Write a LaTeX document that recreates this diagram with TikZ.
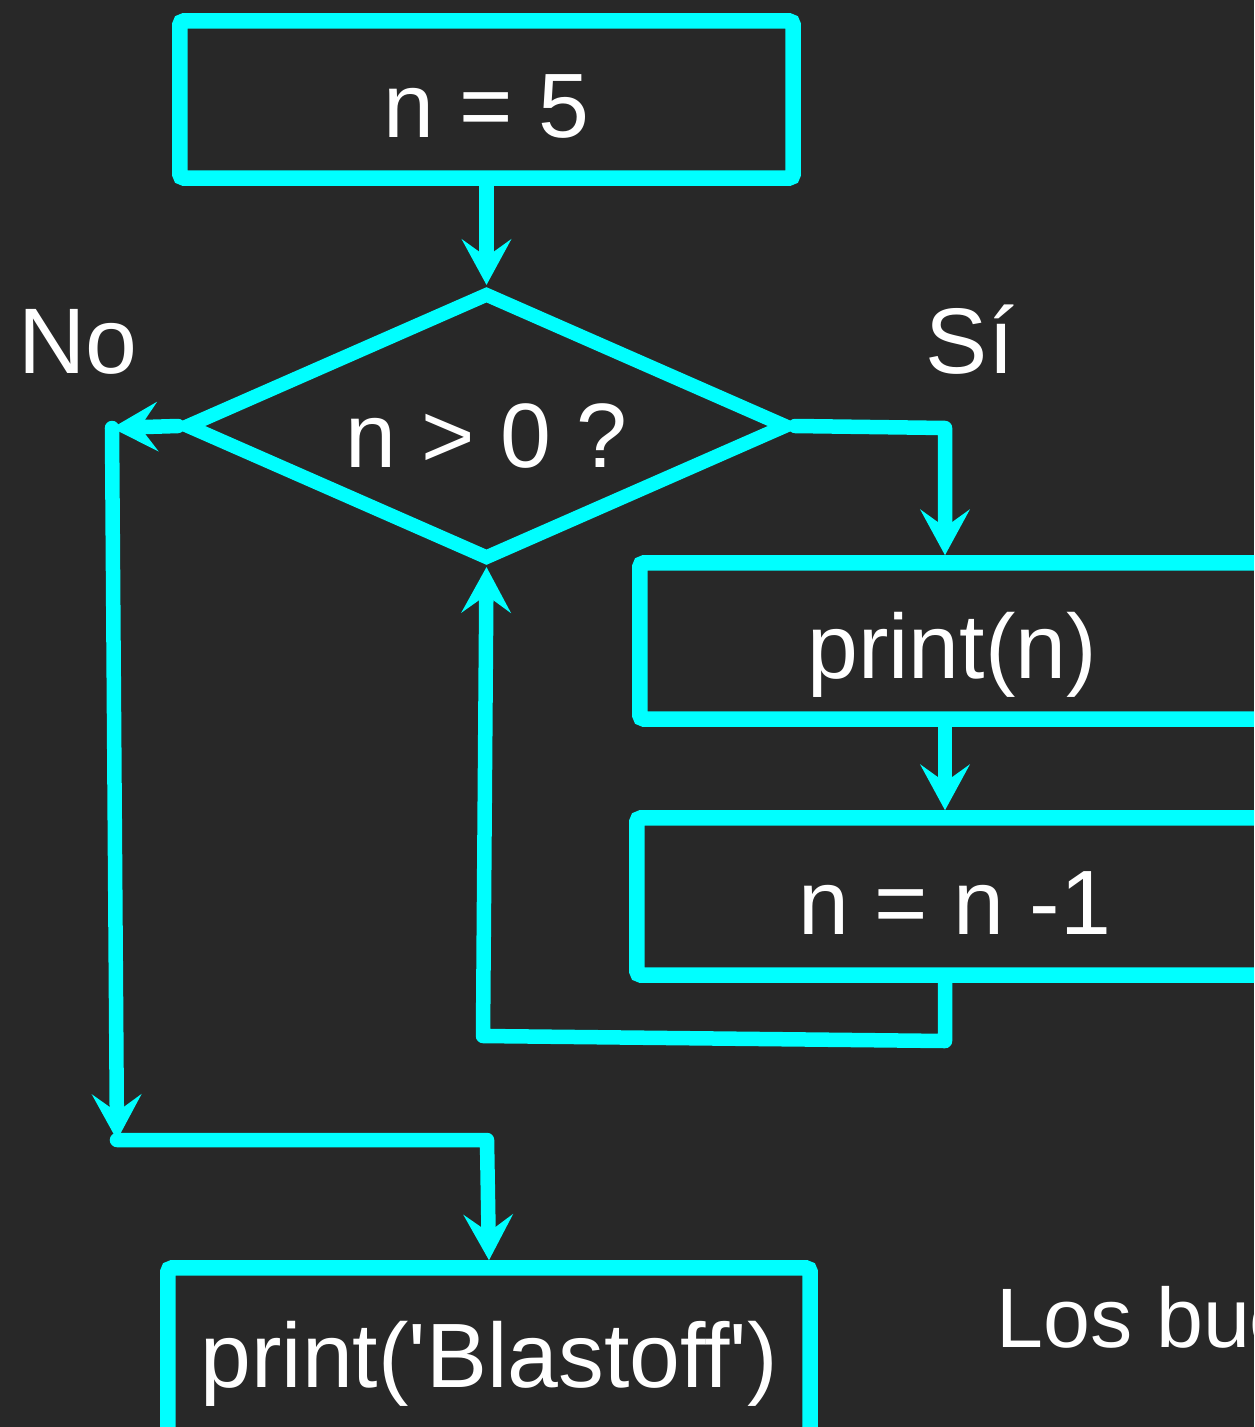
\documentclass[tikz,border=0pt]{standalone}
\usepackage{fontspec}
\setmainfont{Liberation Sans}
\usetikzlibrary{shapes.geometric,arrows.meta}
\definecolor{bgdark}{HTML}{282828}
\definecolor{flowcyan}{HTML}{00FFFF}
\begin{document}
\begin{tikzpicture}[x=0.01cm,y=-0.01cm,
    box/.style={draw=flowcyan, line width=0.155cm, rounded corners=0.04cm, text=white, inner sep=0pt,
        text height=0.75cm, text depth=0pt, font=\fontsize{26pt}{31pt}\selectfont},
    decision/.style={diamond, draw=flowcyan, line width=0.14cm, text=white, inner sep=0pt, shape aspect=2.25,
        text height=0.82cm, text depth=0pt, font=\fontsize{26pt}{31pt}\selectfont},
    flow/.style={draw=flowcyan, line width=0.145cm, line cap=round, line join=round,
        -{Stealth[length=0.46cm,width=0.5cm,inset=0.18cm,line width=0pt]}},
    lbl/.style={text=white, inner sep=0pt}]
    \useasboundingbox (0,0) rectangle (1254,1427);
    \fill[bgdark] (0,0) rectangle (1254,1427);
    \clip (0,0) rectangle (1254,1427);

    \node[box, minimum width=6.13cm, minimum height=1.57cm] (init) at (486.5,99.5) {n = 5};
    \node[decision, minimum width=6.03cm, minimum height=2.68cm] (check) at (486.5,426) {n > 0 ?};
    \node[box, minimum width=6.24cm, minimum height=1.56cm] (shown) at (952,641) {print(n)};
    \node[box, minimum width=6.36cm, minimum height=1.57cm] (dec) at (955,896.5) {n = n -1};
    \node[box, minimum width=6.42cm, minimum height=1.72cm, text height=0.66cm] (done) at (489,1354)
        {print(\textquotesingle Blastoff\textquotesingle)};

    \node[lbl, anchor=base, font=\fontsize{26.5pt}{32pt}\selectfont] (no) at (78,373) {No};
    \node[lbl, anchor=base, font=\fontsize{26.5pt}{32pt}\selectfont] (yes) at (970,373) {Sí};
    \node[lbl, anchor=base west, font=\fontsize{24pt}{29pt}\selectfont] (note) at (996,1347) {Los bucles};

    \coordinate (noA) at (112,428);
    \coordinate (noB) at (117,1140);
    \coordinate (join) at (487,1140);
    \coordinate (yesA) at (945,428);
    \coordinate (loopA) at (945,1041);
    \coordinate (loopB) at (483,1036);

    \draw[flow] (init.south) -- (check.north);
    \draw[flow] (check.west) -- (noA);
    \draw[flow] (noA) -- (noB);
    \draw[flow] (noB) -- (join) -- (done.north);
    \draw[flow] (check.east) -- (yesA) -- (yesA |- shown.north);
    \draw[flow] (yesA |- shown.south) -- (yesA |- dec.north);
    \draw[flow] (yesA |- dec.south) -- (loopA) -- (loopB) -- (check.south);
\end{tikzpicture}
\end{document}
